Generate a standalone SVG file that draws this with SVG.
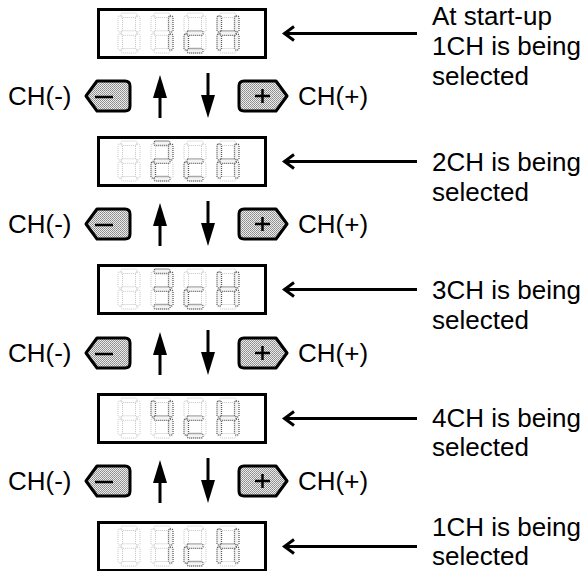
<svg xmlns="http://www.w3.org/2000/svg" xmlns:xlink="http://www.w3.org/1999/xlink" width="588" height="571" viewBox="0 0 588 571">
<style>
.lbl{font-family:"Liberation Sans",Arial,sans-serif;font-size:26px;fill:#000}
.box{fill:#fff;stroke:#000;stroke-width:3}
.off{fill:none;stroke:#c4c4c4;stroke-width:1;stroke-dasharray:1 1}
.on{fill:#f4f4f4;stroke:#5a5a5a;stroke-width:1.3;stroke-dasharray:1 1}
.btn{fill:url(#bt);stroke:#000;stroke-width:3;stroke-linejoin:round}
.sym{stroke:#000;stroke-width:2.5;fill:none}
.ln{stroke:#000;stroke-width:3;fill:none}
.hd{fill:#000}
</style>
<defs>
<pattern id="bt" width="2" height="2" patternUnits="userSpaceOnUse"><rect width="2" height="2" fill="#ececec"/><rect width="1" height="1" fill="#8a8a8a"/><rect x="1" y="1" width="1" height="1" fill="#999"/></pattern>
<rect id="sa" x="3" y="0" width="16" height="4.5" rx="1.5"/>
<rect id="sb" x="17.5" y="3" width="4.5" height="16" rx="1.5"/>
<rect id="sc" x="17.5" y="21" width="4.5" height="16" rx="1.5"/>
<rect id="sd" x="3" y="35.5" width="16" height="4.5" rx="1.5"/>
<rect id="se" x="0" y="21" width="4.5" height="16" rx="1.5"/>
<rect id="sf" x="0" y="3" width="4.5" height="16" rx="1.5"/>
<rect id="sg" x="3" y="17.8" width="16" height="4.5" rx="1.5"/>
<g id="d0"><use href="#sa" class="off"/><use href="#sb" class="off"/><use href="#sc" class="off"/><use href="#sd" class="off"/><use href="#se" class="off"/><use href="#sf" class="off"/><use href="#sg" class="off"/></g>
<g id="d1"><use href="#sa" class="off"/><use href="#sb" class="on"/><use href="#sc" class="on"/><use href="#sd" class="off"/><use href="#se" class="off"/><use href="#sf" class="off"/><use href="#sg" class="off"/></g>
<g id="d2"><use href="#sa" class="on"/><use href="#sb" class="on"/><use href="#sc" class="off"/><use href="#sd" class="on"/><use href="#se" class="on"/><use href="#sf" class="off"/><use href="#sg" class="on"/></g>
<g id="d3"><use href="#sa" class="on"/><use href="#sb" class="on"/><use href="#sc" class="on"/><use href="#sd" class="on"/><use href="#se" class="off"/><use href="#sf" class="off"/><use href="#sg" class="on"/></g>
<g id="d4"><use href="#sa" class="off"/><use href="#sb" class="on"/><use href="#sc" class="on"/><use href="#sd" class="off"/><use href="#se" class="off"/><use href="#sf" class="on"/><use href="#sg" class="on"/></g>
<g id="dc"><use href="#sa" class="off"/><use href="#sb" class="off"/><use href="#sc" class="off"/><use href="#sd" class="on"/><use href="#se" class="on"/><use href="#sf" class="off"/><use href="#sg" class="on"/></g>
<g id="dH"><use href="#sa" class="off"/><use href="#sb" class="on"/><use href="#sc" class="on"/><use href="#sd" class="off"/><use href="#se" class="on"/><use href="#sf" class="on"/><use href="#sg" class="on"/></g>
</defs>
<rect width="588" height="571" fill="#fff"/>

<g id="display1">
<rect class="box" x="98.5" y="9.5" width="167" height="48"/>
<use href="#d0" x="118" y="13"/><use href="#d1" x="151" y="13"/><use href="#dc" x="184" y="13"/><use href="#dH" x="217" y="13"/>
</g>
<g id="display2">
<rect class="box" x="98.5" y="137.5" width="167" height="48"/>
<use href="#d0" x="118" y="141"/><use href="#d2" x="151" y="141"/><use href="#dc" x="184" y="141"/><use href="#dH" x="217" y="141"/>
</g>
<g id="display3">
<rect class="box" x="98.5" y="265.5" width="167" height="48"/>
<use href="#d0" x="118" y="269"/><use href="#d3" x="151" y="269"/><use href="#dc" x="184" y="269"/><use href="#dH" x="217" y="269"/>
</g>
<g id="display4">
<rect class="box" x="98.5" y="394.5" width="167" height="48"/>
<use href="#d0" x="118" y="398"/><use href="#d4" x="151" y="398"/><use href="#dc" x="184" y="398"/><use href="#dH" x="217" y="398"/>
</g>
<g id="display5">
<rect class="box" x="98.5" y="522.5" width="167" height="48"/>
<use href="#d0" x="118" y="526"/><use href="#d1" x="151" y="526"/><use href="#dc" x="184" y="526"/><use href="#dH" x="217" y="526"/>
</g>

<g id="buttons">
<g id="row1" transform="translate(0,96)">
<text class="lbl" x="8" y="9">CH(-)</text>
<path class="btn" d="M86,0 L97,-15 H125 Q130,-15 130,-10 V10 Q130,15 125,15 H97 Z"/>
<path class="sym" d="M95,1 H113"/>
<path class="btn" d="M239,-10 Q239,-15 244,-15 H276 L287,0 L276,15 H244 Q239,15 239,10 Z"/>
<path class="sym" d="M255,0 H270 M262.5,-7 V7"/>
<text class="lbl" x="298" y="9">CH(+)</text>
</g>
<g id="row2" transform="translate(0,224)">
<text class="lbl" x="8" y="9">CH(-)</text>
<path class="btn" d="M86,0 L97,-15 H125 Q130,-15 130,-10 V10 Q130,15 125,15 H97 Z"/>
<path class="sym" d="M95,1 H113"/>
<path class="btn" d="M239,-10 Q239,-15 244,-15 H276 L287,0 L276,15 H244 Q239,15 239,10 Z"/>
<path class="sym" d="M255,0 H270 M262.5,-7 V7"/>
<text class="lbl" x="298" y="9">CH(+)</text>
</g>
<g id="row3" transform="translate(0,353)">
<text class="lbl" x="8" y="9">CH(-)</text>
<path class="btn" d="M86,0 L97,-15 H125 Q130,-15 130,-10 V10 Q130,15 125,15 H97 Z"/>
<path class="sym" d="M95,1 H113"/>
<path class="btn" d="M239,-10 Q239,-15 244,-15 H276 L287,0 L276,15 H244 Q239,15 239,10 Z"/>
<path class="sym" d="M255,0 H270 M262.5,-7 V7"/>
<text class="lbl" x="298" y="9">CH(+)</text>
</g>
<g id="row4" transform="translate(0,481)">
<text class="lbl" x="8" y="9">CH(-)</text>
<path class="btn" d="M86,0 L97,-15 H125 Q130,-15 130,-10 V10 Q130,15 125,15 H97 Z"/>
<path class="sym" d="M95,1 H113"/>
<path class="btn" d="M239,-10 Q239,-15 244,-15 H276 L287,0 L276,15 H244 Q239,15 239,10 Z"/>
<path class="sym" d="M255,0 H270 M262.5,-7 V7"/>
<text class="lbl" x="298" y="9">CH(+)</text>
</g>
</g>

<g id="connectors">
<g transform="translate(0,96)">
<path class="ln" d="M160,22 V0"/><path class="hd" d="M153,2 L160,-21 L167,2 Z"/>
<path class="ln" d="M208,-23 V0"/><path class="hd" d="M201,-1 L208,22 L215,-1 Z"/>
</g>
<g transform="translate(0,224)">
<path class="ln" d="M160,22 V0"/><path class="hd" d="M153,2 L160,-21 L167,2 Z"/>
<path class="ln" d="M208,-23 V0"/><path class="hd" d="M201,-1 L208,22 L215,-1 Z"/>
</g>
<g transform="translate(0,353)">
<path class="ln" d="M160,22 V0"/><path class="hd" d="M153,2 L160,-21 L167,2 Z"/>
<path class="ln" d="M208,-23 V0"/><path class="hd" d="M201,-1 L208,22 L215,-1 Z"/>
</g>
<g transform="translate(0,481)">
<path class="ln" d="M160,22 V0"/><path class="hd" d="M153,2 L160,-21 L167,2 Z"/>
<path class="ln" d="M208,-23 V0"/><path class="hd" d="M201,-1 L208,22 L215,-1 Z"/>
</g>
<path class="ln" d="M417,33.5 H285 M294,26.5 L284.5,33.5 L294,40.5"/>
<path class="ln" d="M417,161.5 H285 M294,154.5 L284.5,161.5 L294,168.5"/>
<path class="ln" d="M417,289.5 H285 M294,282.5 L284.5,289.5 L294,296.5"/>
<path class="ln" d="M417,418.5 H285 M294,411.5 L284.5,418.5 L294,425.5"/>
<path class="ln" d="M417,546.5 H285 M294,539.5 L284.5,546.5 L294,553.5"/>
</g>

<g id="notes">
<text class="lbl" x="432" y="25">At start-up</text>
<text class="lbl" x="432" y="55">1CH is being</text>
<text class="lbl" x="432" y="85">selected</text>
<text class="lbl" x="432" y="171">2CH is being</text>
<text class="lbl" x="432" y="201">selected</text>
<text class="lbl" x="432" y="299">3CH is being</text>
<text class="lbl" x="432" y="329">selected</text>
<text class="lbl" x="432" y="427">4CH is being</text>
<text class="lbl" x="432" y="456">selected</text>
<text class="lbl" x="432" y="536">1CH is being</text>
<text class="lbl" x="432" y="565">selected</text>
</g>
</svg>
